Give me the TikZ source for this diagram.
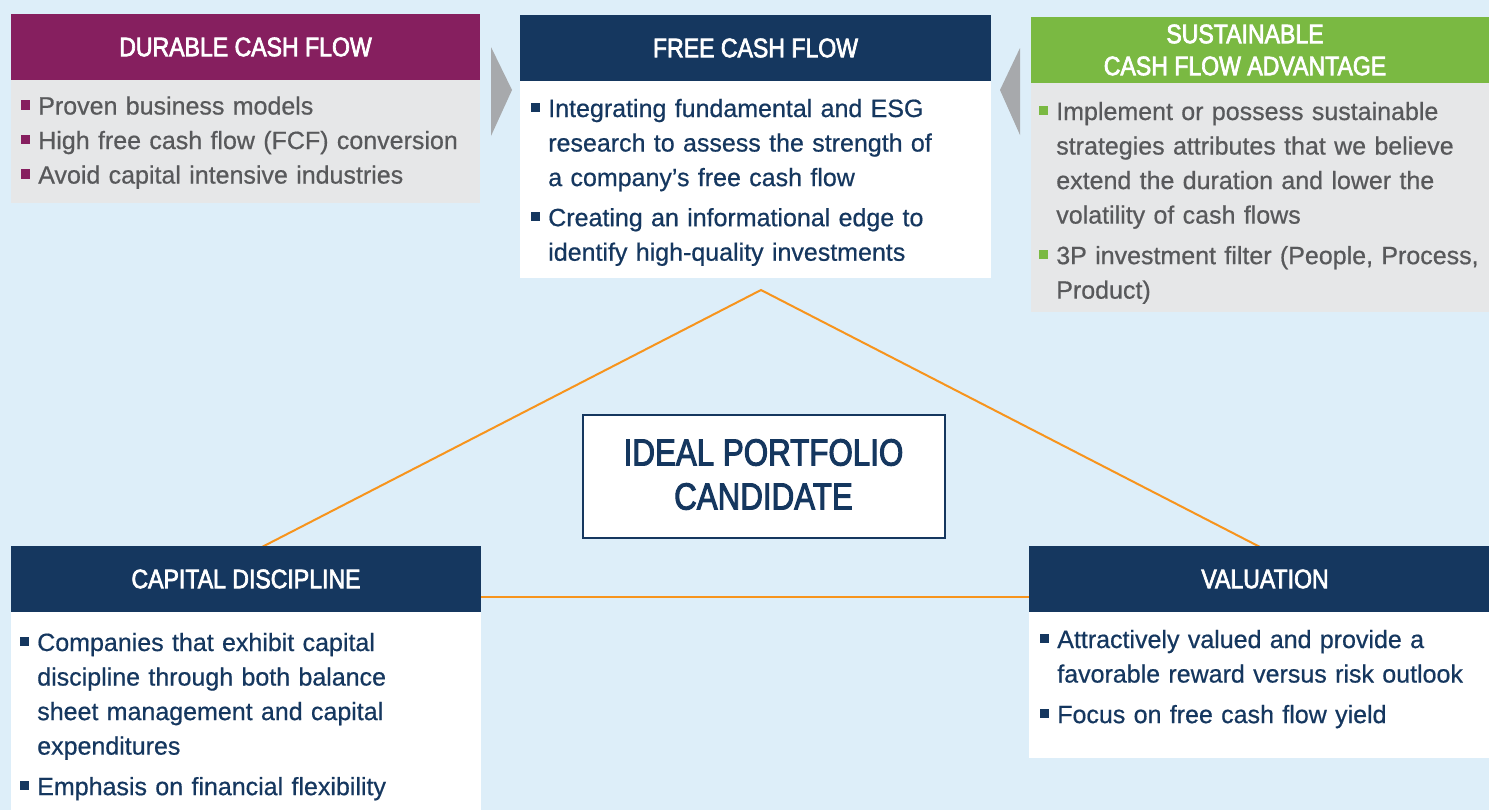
\documentclass[tikz,border=0pt]{standalone}
\usepackage{fontspec}
\setmainfont[FakeBold=0.6]{Liberation Sans}
\newfontfamily\hdfont[FakeStretch=0.865,FakeBold=2.6]{Liberation Sans}
\newfontfamily\ttlfont[FakeStretch=0.83,FakeBold=2.6]{Liberation Sans}
\usetikzlibrary{fit}
\definecolor{bg}{HTML}{DDEEF9}
\definecolor{plum}{HTML}{861F5F}
\definecolor{navy}{HTML}{15375F}
\definecolor{leaf}{HTML}{7AB942}
\definecolor{boxgray}{HTML}{E6E7E8}
\definecolor{arrowgray}{HTML}{A7A9AC}
\definecolor{txtgray}{HTML}{58595B}
\definecolor{linkorange}{HTML}{F7941D}
\newcommand\bul[1]{\leavevmode\llap{\textcolor{#1}{\rule[3.75pt]{6.8pt}{6.8pt}}\hspace{6pt}}}
\begin{document}
\begin{tikzpicture}[x=0.75pt,y=-0.75pt,
  box/.style={inner sep=0pt, outer sep=0pt, draw=none},
  hdrtext/.style={text=white, font=\hdfont\fontsize{20}{24}\selectfont, align=center, inner sep=0pt},
  ttltext/.style={text=navy, font=\ttlfont\fontsize{28.3}{33}\selectfont, align=center, inner sep=0pt},
  bodytext/.style={font=\fontsize{18.75}{25.9}\selectfont, align=left, text width=440pt, inner sep=0pt, anchor=base west},
  link/.style={draw=linkorange, line width=1.5pt},
  pointer/.style={fill=arrowgray}]
\useasboundingbox (0,0) rectangle (1489,810);
\fill[bg] (0,0) rectangle (1489,810);

% orange connectors
\coordinate (apex) at (761,290);
\coordinate (lfoot) at (262,547);
\coordinate (rfoot) at (1260,547);
\draw[link] (lfoot) -- (apex) -- (rfoot);

% durable cash flow
\node[box, fill=plum, fit={(11,14) (480,80)}] (dh) {};
\node[box, fill=boxgray, fit={(11,80) (480,203)}] (db) {};
\node[hdrtext] (dt) at (dh.center) {DURABLE CASH FLOW};
\node[bodytext, text=txtgray] (dx) at (38,114.5) {\bul{plum}Proven business models\\
\bul{plum}High free cash flow (FCF) conversion\\
\bul{plum}Avoid capital intensive industries};

% pointers
\fill[pointer] (491,47) -- (512,90) -- (491,136) -- cycle;
\fill[pointer] (1020,48) -- (1000,90) -- (1020,135) -- cycle;

% free cash flow
\node[box, fill=navy, fit={(520,15) (991,81)}] (fh) {};
\node[box, fill=white, fit={(520,81) (991,278)}] (fb) {};
\node[hdrtext] (ft) at (fh.center) {FREE CASH FLOW};
\node[bodytext, text=navy] (fx) at (548,117) {\bul{navy}Integrating fundamental and ESG\\
research to assess the strength of\\
a company’s free cash flow\\[4.2pt]
\bul{navy}Creating an informational edge to\\
identify high-quality investments};

% sustainable
\node[box, fill=leaf, fit={(1031,17) (1489,83)}] (sh) {};
\node[box, fill=boxgray, fit={(1031,83) (1489,312)}] (sb) {};
\node[hdrtext] (st) at (1245,50) {SUSTAINABLE\\CASH FLOW ADVANTAGE};
\node[bodytext, text=txtgray] (sx) at (1056,120) {\bul{leaf}Implement or possess sustainable\\
strategies attributes that we believe\\
extend the duration and lower the\\
volatility of cash flows\\[4.5pt]
\bul{leaf}3P investment filter (People, Process,\\
Product)};

% ideal portfolio candidate
\node[box, draw=navy, line width=1.5pt, fill=white, fit={(583,415) (945,538)}] (ideal) {};
\node[ttltext] (it) at (763.5,474.5) {IDEAL PORTFOLIO\\CANDIDATE};

% capital discipline
\node[box, fill=navy, fit={(11,546) (481,612)}] (ch) {};
\node[box, fill=white, fit={(11,612) (481,815)}] (cb) {};
\node[hdrtext] (ct) at (ch.center) {CAPITAL DISCIPLINE};
\node[bodytext, text=navy] (cx) at (37,651) {\bul{navy}Companies that exhibit capital\\
discipline through both balance\\
sheet management and capital\\
expenditures\\[4.5pt]
\bul{navy}Emphasis on financial flexibility};

% valuation
\node[box, fill=navy, fit={(1029,546) (1501,612)}] (vh) {};
\node[box, fill=white, fit={(1029,612) (1501,758)}] (vb) {};
\node[hdrtext] (vt) at (vh.center) {VALUATION};
\node[bodytext, text=navy] (vx) at (1057,648) {\bul{navy}Attractively valued and provide a\\
favorable reward versus risk outlook\\[4.5pt]
\bul{navy}Focus on free cash flow yield};

\draw[link] (ch.east |- 0,597) -- (vh.west |- 0,597);
\end{tikzpicture}
\end{document}
